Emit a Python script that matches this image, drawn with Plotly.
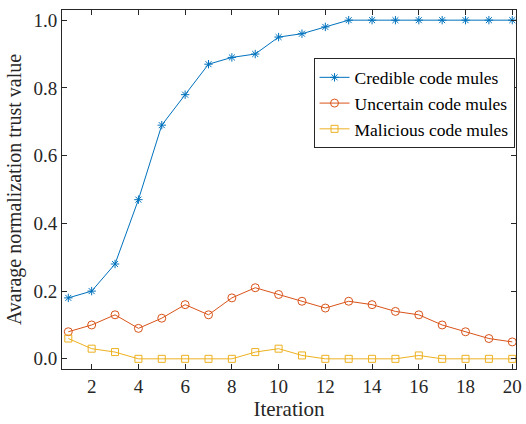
import plotly.graph_objects as go

iterations = list(range(1, 21))
credible = [0.18, 0.20, 0.28, 0.47, 0.69, 0.78, 0.87, 0.89, 0.90, 0.95,
            0.96, 0.98, 1.0, 1.0, 1.0, 1.0, 1.0, 1.0, 1.0, 1.0]
uncertain = [0.08, 0.10, 0.13, 0.09, 0.12, 0.16, 0.13, 0.18, 0.21, 0.19,
             0.17, 0.15, 0.17, 0.16, 0.14, 0.13, 0.10, 0.08, 0.06, 0.05]
malicious = [0.06, 0.03, 0.02, 0.0, 0.0, 0.0, 0.0, 0.0, 0.02, 0.03,
             0.01, 0.0, 0.0, 0.0, 0.0, 0.01, 0.0, 0.0, 0.0, 0.0]
x_ticks = [2, 4, 6, 8, 10, 12, 14, 16, 18, 20]
y_ticks = [0.0, 0.2, 0.4, 0.6, 0.8, 1.0]

FONT = "Liberation Serif"

fig = go.Figure()
fig.add_trace(go.Scatter(
    x=iterations, y=credible, mode="lines+markers", name="Credible code mules",
    line=dict(color="#0072BD", width=1),
    marker=dict(symbol="asterisk-open", size=7, color="#0072BD",
                line=dict(color="#0072BD", width=1))))
fig.add_trace(go.Scatter(
    x=iterations, y=uncertain, mode="lines+markers", name="Uncertain code mules",
    line=dict(color="#D95319", width=1),
    marker=dict(symbol="circle-open", size=8, color="#D95319",
                line=dict(color="#D95319", width=1))))
fig.add_trace(go.Scatter(
    x=iterations, y=malicious, mode="lines+markers", name="Malicious code mules",
    line=dict(color="#EDB120", width=1),
    marker=dict(symbol="square-open", size=7, color="#EDB120",
                line=dict(color="#EDB120", width=1))))

axis_common = dict(
    showline=True, linecolor="#262626", linewidth=1, mirror="allticks",
    ticks="inside", ticklen=5, tickwidth=1, tickcolor="#262626",
    showgrid=False, zeroline=False, ticklabeloverflow="allow",
    tickfont=dict(family=FONT, size=19, color="#262626"),
)

fig.update_layout(
    width=526, height=424,
    margin=dict(l=62, r=4, t=10, b=55),
    plot_bgcolor="white", paper_bgcolor="white",
    font=dict(family=FONT, color="#262626"),
    xaxis=dict(range=[0.73, 20.16], tickvals=x_ticks,
               title=dict(text="Iteration", font=dict(family=FONT, size=21), standoff=5),
               **axis_common),
    yaxis=dict(range=[-0.03, 1.03], tickvals=y_ticks, tickformat=".1f",
               title=dict(text="Avarage normalization trust value",
                          font=dict(family=FONT, size=20), standoff=6),
               **axis_common),
    legend=dict(x=0.554, y=0.865, xanchor="left", yanchor="top",
                bgcolor="white", bordercolor="#262626", borderwidth=1,
                font=dict(family=FONT, size=17.5, color="black"),
                tracegroupgap=0, itemwidth=30),
    showlegend=True,
)

fig.write_html("out.html")
